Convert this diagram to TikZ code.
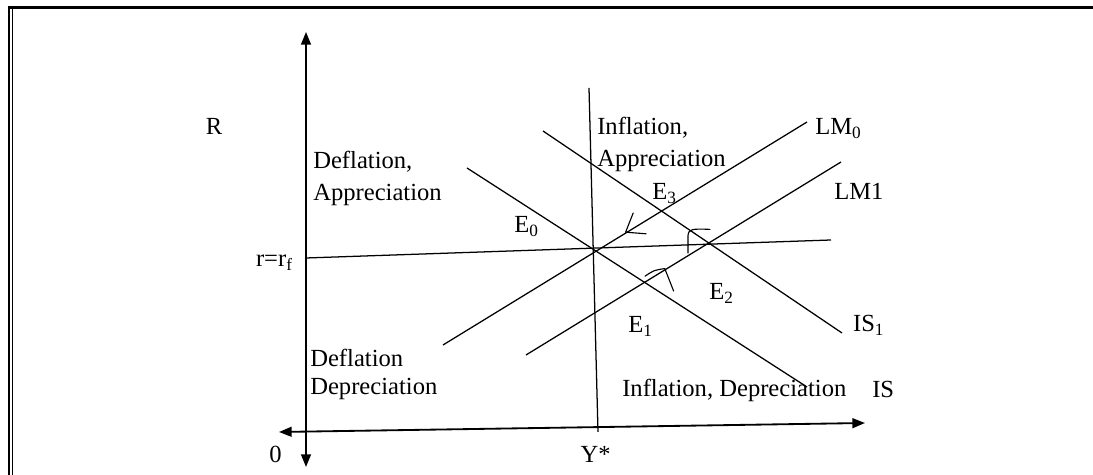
\documentclass[tikz,border=0pt]{standalone}
\usepackage{fontspec}
\setmainfont{Liberation Serif}
\usetikzlibrary{arrows.meta}

\begin{document}
\begin{tikzpicture}[
  axisline/.style={line width=1.3pt, {Triangle[length=9pt,width=7pt]}-{Triangle[length=9pt,width=7pt]}},
  crv/.style={line width=0.9pt},
  hand/.style={line width=0.8pt, line cap=round, line join=round},
  lbl/.style={font=\fontsize{17.5}{22.8}\selectfont, inner sep=0pt}
]
  \useasboundingbox (0,0) rectangle (27.325,11.875);
  % frame
  \draw[line width=1.7pt] (0.225,0) -- (0.225,11.72);
  \draw[line width=0.8pt] (0.3025,0) -- (0.3025,11.65);
  \draw[line width=2.4pt] (0.19,11.684) -- (27.325,11.684);
  % axes
  \coordinate (yBot) at (7.65,0.2);
  \coordinate (yTop) at (7.65,11.075);
  \coordinate (xLeft) at (6.975,1.075);
  \coordinate (xRight) at (21.625,1.3);
  \draw[axisline] (yBot) -- (yTop);
  \draw[axisline] (xLeft) -- (xRight);
  \node[lbl, anchor=base] (lblR) at (5.35,8.5) {R};
  \node[lbl, anchor=base] (lblZero) at (6.89,0.3) {0};
  \node[lbl, anchor=base] (lblYstar) at (14.89,0.3) {Y*};
  \node[lbl, anchor=base east] (lblRf) at (7.325,5.2) {r=r\textsubscript{f}};
  % r = r_f and Y*
  \coordinate (rfA) at (7.65,5.425);
  \coordinate (rfB) at (20.775,5.875);
  \draw[crv] (rfA) -- (rfB);
  \coordinate (ysTop) at (14.725,9.675);
  \coordinate (ysBot) at (14.95,1.075);
  \draw[crv] (ysTop) -- (ysBot);
  % IS and LM curves
  \coordinate (isA) at (11.675,7.675);
  \coordinate (isB) at (20.175,2.2);
  \coordinate (isOneA) at (13.575,8.6);
  \coordinate (isOneB) at (21.05,3.55);
  \coordinate (lmA) at (11.075,3.25);
  \coordinate (lmB) at (20.175,8.825);
  \coordinate (lmOneA) at (13.15,3.0);
  \coordinate (lmOneB) at (21.025,7.825);
  \draw[crv] (isA) -- (isB);
  \draw[crv] (isOneA) -- (isOneB);
  \draw[crv] (lmA) -- (lmB);
  \draw[crv] (lmOneA) -- (lmOneB);
  \node[lbl, anchor=base west] (lblLM) at (20.375,8.5) {LM\textsubscript{0}};
  \node[lbl, anchor=base west] (lblLMone) at (20.85,6.875) {LM1};
  \node[lbl, anchor=base west] (lblISone) at (21.32,3.583) {IS\textsubscript{1}};
  \node[lbl, anchor=base west] (lblIS) at (21.8,1.925) {IS};
  % equilibria
  \node[lbl, anchor=base west] (eZero) at (12.85,6.05) {E\textsubscript{0}};
  \node[lbl, anchor=base west] (eOne) at (15.7,3.55) {E\textsubscript{1}};
  \node[lbl, anchor=base west] (eTwo) at (17.725,4.375) {E\textsubscript{2}};
  \node[lbl, anchor=base west] (eThree) at (16.3,6.875) {E\textsubscript{3}};
  % regions
  \node[lbl, anchor=west, align=left] (defApp) at (7.825,7.425) {Deflation,\\Appreciation};
  \node[lbl, anchor=west, align=left] (infApp) at (14.925,8.275) {Inflation,\\Appreciation};
  \node[lbl, anchor=west, align=left, font=\fontsize{17.5}{19.9}\selectfont] (defDep) at (7.75,2.525) {Deflation\\Depreciation};
  \node[lbl, anchor=base west] (infDep) at (15.55,1.95) {Inflation, Depreciation};
  % hand-drawn marks
  \draw[hand] (15.83,6.55) .. controls (15.75,6.3) .. (15.64,6.07) -- (16.15,6.03);
  \draw[hand] (17.2,5.55) -- (17.2,5.98) .. controls (17.21,6.15) and (17.3,6.16) .. (17.75,6.14);
  \draw[hand] (16.125,4.97) .. controls (16.35,5.12) .. (16.62,5.16) -- (16.84,4.6);
\end{tikzpicture}
\end{document}
